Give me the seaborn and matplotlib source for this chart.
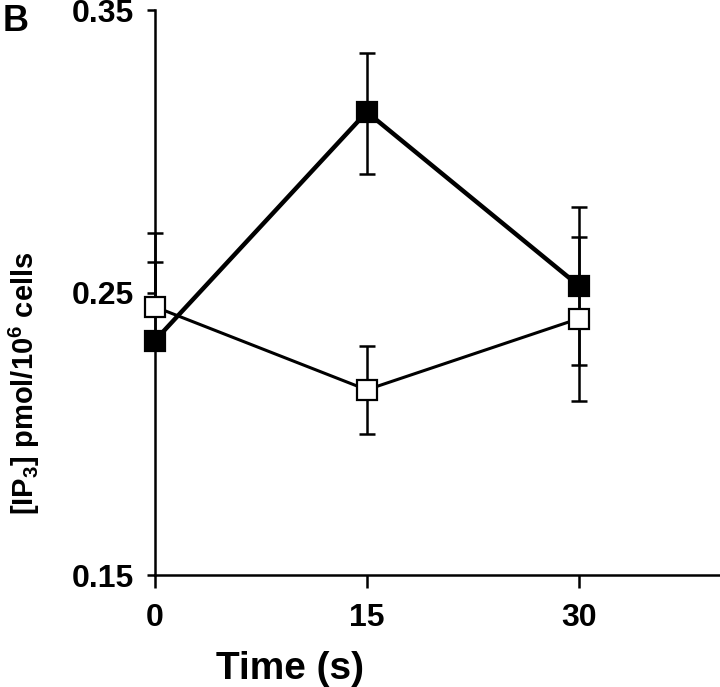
import numpy as np
import pandas as pd
import matplotlib
matplotlib.use("Agg")
import matplotlib.pyplot as plt
import seaborn as sns

# data
time_s = [0, 15, 30]
filled_vals = [0.233, 0.314, 0.2525]
filled_err_low = [0.0, 0.022, 0.028]
filled_err_up = [0.028, 0.021, 0.028]
open_vals = [0.245, 0.2156, 0.2408]
open_err_low = [0.0, 0.0156, 0.029]
open_err_up = [0.026, 0.0156, 0.029]

x_ticks = [0, 15, 30]
y_ticks = [0.15, 0.25, 0.35]
y_tick_labels = ["0.15", "0.25", "0.35"]

sns.set_style("ticks")
plt.rcParams['font.family'] = ['Liberation Sans', 'DejaVu Sans']
plt.rcParams['font.weight'] = 'bold'
plt.rcParams['text.color'] = 'black'
plt.rcParams['axes.labelcolor'] = 'black'
plt.rcParams['mathtext.fontset'] = 'custom'
plt.rcParams['mathtext.rm'] = 'Liberation Sans:bold'
plt.rcParams['mathtext.it'] = 'Liberation Sans:bold'
plt.rcParams['mathtext.bf'] = 'Liberation Sans:bold'

df = pd.DataFrame({"time": time_s, "filled": filled_vals, "open": open_vals})

fig = plt.figure(figsize=(7.2, 6.87), dpi=100)
ax = fig.add_axes([0.215, 0.163, 0.785, 0.822])

# error bars first, markers drawn over them
ax.errorbar(df["time"], df["filled"], yerr=[filled_err_low, filled_err_up], fmt='none',
            ecolor='black', elinewidth=1.8, capsize=5.5, capthick=1.8, zorder=2, clip_on=False)
ax.errorbar(df["time"], df["open"], yerr=[open_err_low, open_err_up], fmt='none',
            ecolor='black', elinewidth=1.8, capsize=5.5, capthick=1.8, zorder=2, clip_on=False)

sns.lineplot(data=df, x="time", y="open", ax=ax, color='black', lw=2.2, marker='s',
             markersize=15, markerfacecolor='white', markeredgecolor='black',
             markeredgewidth=1.6, zorder=3, clip_on=False)
sns.lineplot(data=df, x="time", y="filled", ax=ax, color='black', lw=3.2, marker='s',
             markersize=15, markerfacecolor='black', markeredgecolor='black',
             markeredgewidth=1.6, zorder=4, clip_on=False)

ax.set_xlim(0, 40)
ax.set_ylim(0.15, 0.35)
ax.set_xticks(x_ticks)
ax.set_yticks(y_ticks)
ax.set_yticklabels(y_tick_labels)
sns.despine(ax=ax)
for s in ['left', 'bottom']:
    ax.spines[s].set_linewidth(1.8)
    ax.spines[s].set_color('black')

ax.tick_params(axis='y', direction='out', length=6, width=1.8, pad=9,
               labelsize=23, colors='black')
ax.tick_params(axis='x', direction='out', length=9, width=1.8, pad=11,
               labelsize=23, colors='black')
for lab in ax.get_xticklabels() + ax.get_yticklabels():
    lab.set_fontweight('bold')

ax.set_xlabel("Time (s)", fontsize=28, fontweight='bold')
ax.xaxis.set_label_coords(0.239, -0.135)
ax.set_ylabel(r"[IP$_3$] pmol/10$^6$ cells", fontsize=21, fontweight='bold')
ax.yaxis.set_label_coords(-0.2, 0.34)

fig.text(0.004, 1 - 4 / 687, "B", fontsize=26, fontweight='bold', va='top', ha='left')

fig.savefig("out.png", dpi=100)
